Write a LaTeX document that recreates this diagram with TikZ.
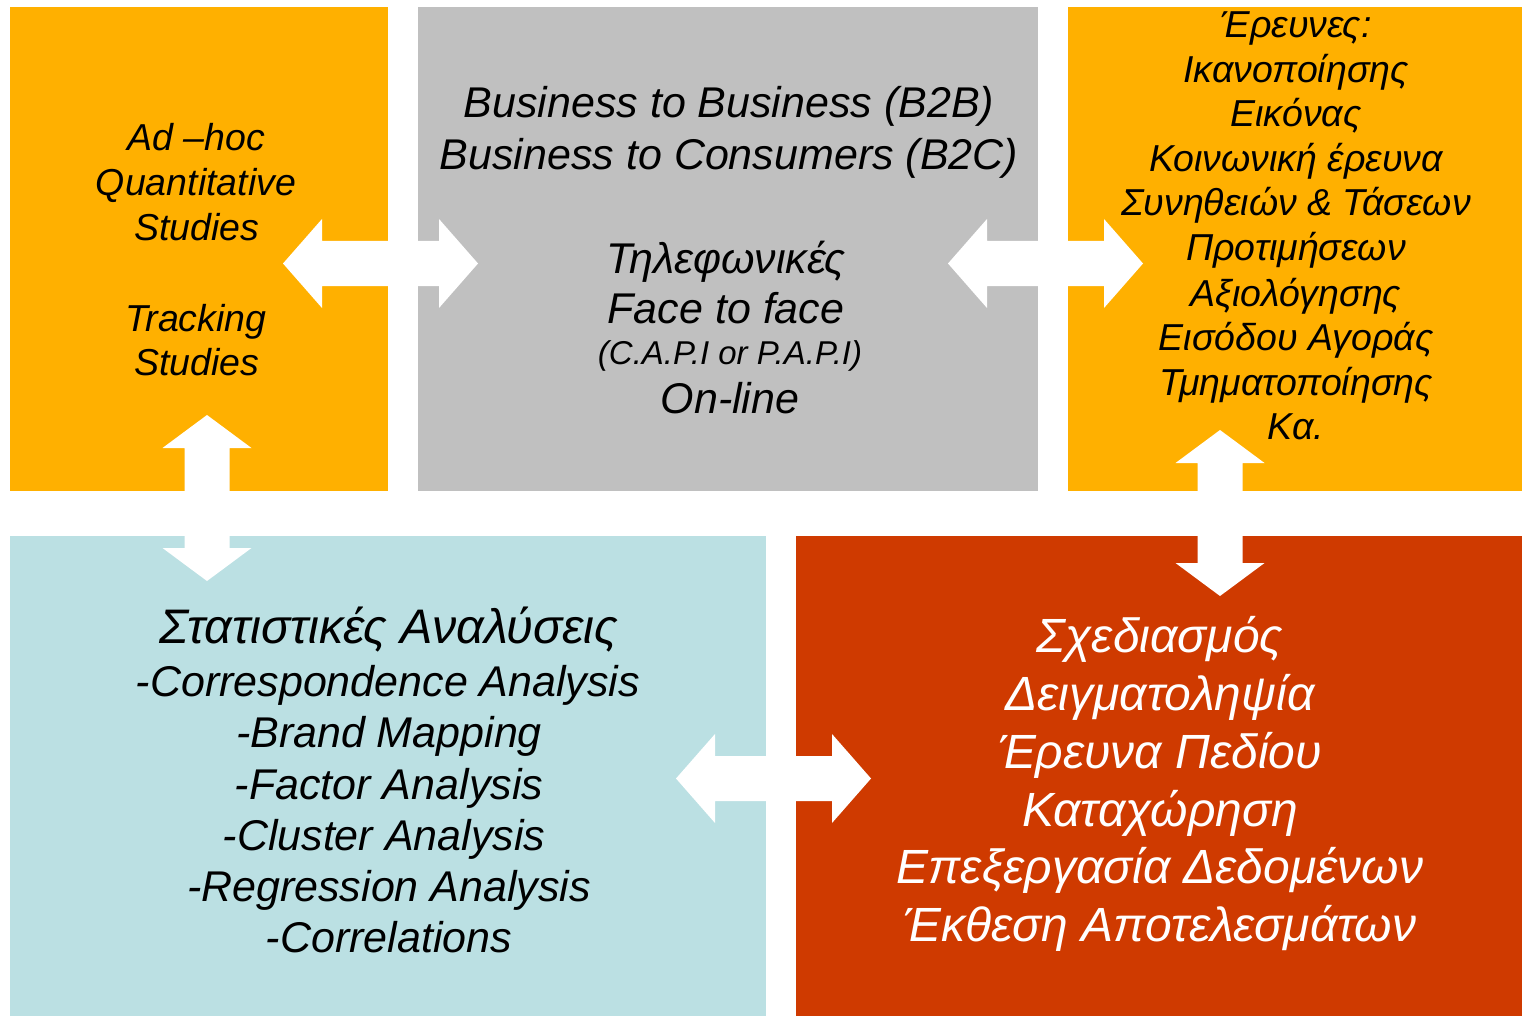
\documentclass[tikz,border=0pt]{standalone}
\usepackage{fontspec}
\setmainfont{Liberation Sans}
\definecolor{orng}{HTML}{FFB000}
\definecolor{grayb}{HTML}{C0C0C0}
\definecolor{lblue}{HTML}{BBE0E3}
\definecolor{redb}{HTML}{CF3A00}
\newcommand\txtline[6][black]{\node[font=\fontsize{#5}{#5}\selectfont\itshape,text=#1,anchor=base,inner sep=0pt] (#2) at (#3,#4) {#6};}
\newcommand\hdarrow[3]{\fill[white] (#1,#3) -- ({#1+39},{#3-44.5}) -- ({#1+39},{#3-22.5}) -- ({#2-39},{#3-22.5}) -- ({#2-39},{#3-44.5}) -- (#2,#3) -- ({#2-39},{#3+44.5}) -- ({#2-39},{#3+22.5}) -- ({#1+39},{#3+22.5}) -- ({#1+39},{#3+44.5}) -- cycle;}
\newcommand\vdarrow[3]{\fill[white] (#1,#2) -- ({#1+44.5},{#2+33}) -- ({#1+22.5},{#2+33}) -- ({#1+22.5},{#3-33}) -- ({#1+44.5},{#3-33}) -- (#1,#3) -- ({#1-44.5},{#3-33}) -- ({#1-22.5},{#3-33}) -- ({#1-22.5},{#2+33}) -- ({#1-44.5},{#2+33}) -- cycle;}
\tikzset{box/.style={inner sep=0pt,outer sep=0pt,anchor=north west}}
\begin{document}
\begin{tikzpicture}[x=1pt,y=-1pt]
\useasboundingbox (0,0) rectangle (1522,1016);
\fill[white] (0,0) rectangle (1522,1016);
% boxes
\node[box,fill=orng,minimum width=378pt,minimum height=484pt] (boxA) at (10,7) {};
\node[box,fill=grayb,minimum width=620pt,minimum height=484pt] (boxB) at (418,7) {};
\node[box,fill=orng,minimum width=454pt,minimum height=484pt] (boxC) at (1068,7) {};
\node[box,fill=lblue,minimum width=756pt,minimum height=480pt] (boxD) at (10,536) {};
\node[box,fill=redb,minimum width=726pt,minimum height=480pt] (boxE) at (796,536) {};
% arrows
\hdarrow{283}{478}{263.5}
\hdarrow{948}{1143}{263.5}
\hdarrow{676}{871}{778.5}
\vdarrow{207}{415}{581}
\vdarrow{1220}{430}{596}
% box A text
\txtline{a1}{196}{151}{37.5}{Ad –hoc}
\txtline{a2}{196}{196}{37.5}{Quantitative}
\txtline{a3}{197}{241}{37.5}{Studies}
\txtline{a4}{196}{331}{37.5}{Tracking}
\txtline{a5}{197}{375}{37.5}{Studies}
% box B text
\txtline{b1}{729}{118}{43}{Business to Business (B2B)}
\txtline{b2}{729}{170}{43}{Business to Consumers (B2C)}
\txtline{b3}{726}{273}{43}{Τηλεφωνικές}
\txtline{b4}{726}{323}{43}{Face to face}
\txtline{b5}{730}{364}{33}{(C.A.P.I or P.A.P.I)}
\txtline{b6}{730}{413}{43}{On-line}
% box C text
\txtline{c1}{1296}{38}{37.5}{Έρευνες:}
\txtline{c2}{1296}{83}{37.5}{Ικανοποίησης}
\txtline{c3}{1296}{127}{37.5}{Εικόνας}
\txtline{c4}{1296}{172}{37.5}{Κοινωνική έρευνα}
\txtline{c5}{1296}{216}{37.5}{Συνηθειών \& Τάσεων}
\txtline{c6}{1296}{261}{37.5}{Προτιμήσεων}
\txtline{c7}{1296}{306}{37.5}{Αξιολόγησης}
\txtline{c8}{1296}{350}{37.5}{Εισόδου Αγοράς}
\txtline{c9}{1296}{395}{37.5}{Τμηματοποίησης}
\txtline{c10}{1296}{439}{37.5}{Κα.}
% box D text
\txtline{d1}{389}{643}{48.5}{Στατιστικές Αναλύσεις}
\txtline{d2}{388}{696}{43}{-Correspondence Analysis}
\txtline{d3}{389}{747}{43}{-Brand Mapping}
\txtline{d4}{389}{799}{43}{-Factor Analysis}
\txtline{d5}{384}{850}{43}{-Cluster Analysis}
\txtline{d6}{389}{901}{43}{-Regression Analysis}
\txtline{d7}{389}{952}{43}{-Correlations}
% box E text
\txtline[white]{e1}{1160}{652}{48}{Σχεδιασμός}
\txtline[white]{e2}{1160}{710}{48}{Δειγματοληψία}
\txtline[white]{e3}{1160}{768}{48}{Έρευνα Πεδίου}
\txtline[white]{e4}{1160}{826}{48}{Καταχώρηση}
\txtline[white]{e5}{1160}{883}{48}{Επεξεργασία Δεδομένων}
\txtline[white]{e6}{1160}{941}{48}{Έκθεση Αποτελεσμάτων}
\end{tikzpicture}
\end{document}
